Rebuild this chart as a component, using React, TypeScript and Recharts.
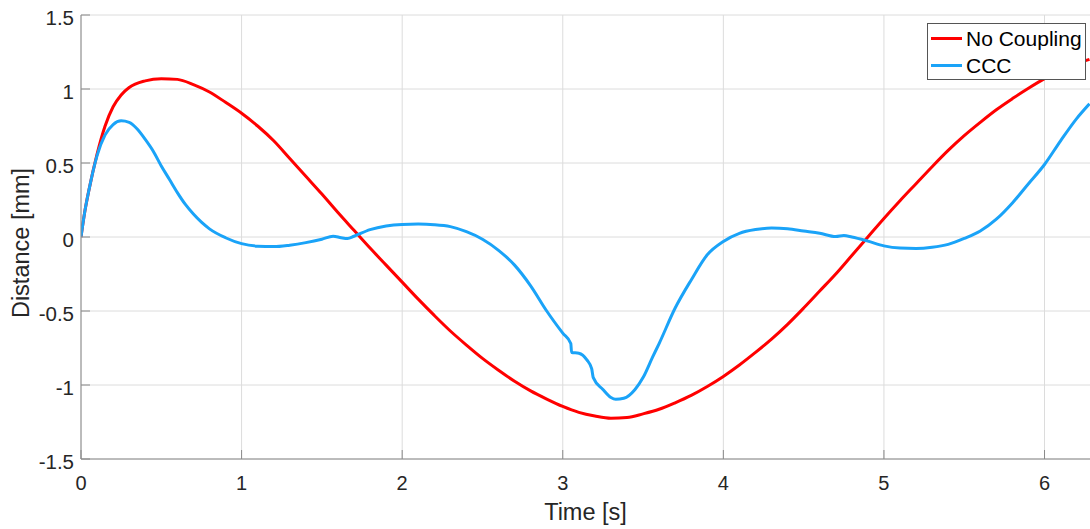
import React from 'react';
import { CartesianGrid, Legend, Line, LineChart, XAxis, YAxis } from 'recharts';

// time [s] / distance [mm]
const noCouplingTime = [
  0, 0.025, 0.05, 0.1, 0.15, 0.2, 0.25, 0.3, 0.4, 0.5, 0.6, 0.7, 0.8, 0.9, 1.0, 1.1, 1.2, 1.3, 1.4, 1.5,
  1.6, 1.7, 1.8, 1.9, 2.0, 2.1, 2.2, 2.3, 2.4, 2.5, 2.6, 2.7, 2.8, 2.9, 3.0, 3.1, 3.2, 3.3, 3.4, 3.5,
  3.6, 3.7, 3.8, 3.9, 4.0, 4.1, 4.2, 4.3, 4.4, 4.5, 4.6, 4.7, 4.8, 4.9, 5.0, 5.1, 5.2, 5.3, 5.4, 5.5,
  5.6, 5.7, 5.8, 5.9, 6.0, 6.1, 6.2, 6.28
];
const noCouplingDist = [
  0, 0.18, 0.32, 0.56, 0.75, 0.88, 0.96, 1.01, 1.055, 1.07, 1.065, 1.03, 0.98, 0.91, 0.836, 0.75, 0.65, 0.53, 0.41, 0.29,
  0.165, 0.045, -0.075, -0.19, -0.305, -0.42, -0.53, -0.635, -0.73, -0.82, -0.9, -0.975, -1.04, -1.095, -1.145, -1.185, -1.21, -1.225, -1.22, -1.195,
  -1.164, -1.12, -1.07, -1.01, -0.942, -0.865, -0.78, -0.69, -0.59, -0.48, -0.365, -0.25, -0.125, 0.0, 0.125, 0.245, 0.36, 0.475, 0.585, 0.685,
  0.775, 0.86, 0.935, 1.005, 1.07, 1.125, 1.17, 1.2
];

const cccTime = [
  0, 0.025, 0.05, 0.1, 0.15, 0.2, 0.25, 0.3, 0.35, 0.4, 0.45, 0.5, 0.55, 0.6, 0.65, 0.7, 0.75, 0.8, 0.9, 1.0,
  1.1, 1.2, 1.3, 1.4, 1.5, 1.57, 1.62, 1.66, 1.7, 1.8, 1.9, 2.0, 2.1, 2.2, 2.3, 2.4, 2.5, 2.6, 2.7, 2.8,
  2.9, 3.0, 3.05, 3.055, 3.1, 3.15, 3.18, 3.19, 3.25, 3.3, 3.33, 3.38, 3.45, 3.5, 3.56, 3.6, 3.7, 3.8, 3.9, 4.0,
  4.1, 4.2, 4.3, 4.4, 4.5, 4.6, 4.7, 4.75, 4.8, 4.9, 5.0, 5.1, 5.2, 5.3, 5.4, 5.5, 5.6, 5.7, 5.8, 5.9,
  6.0, 6.1, 6.2, 6.28
];
const cccDist = [
  0, 0.18, 0.32, 0.55, 0.69, 0.76, 0.785, 0.775, 0.73, 0.66, 0.58, 0.48, 0.39, 0.3, 0.22, 0.155, 0.1, 0.055, -0.005, -0.045,
  -0.062, -0.065, -0.055, -0.038, -0.015, 0.005, -0.005, -0.01, 0.005, 0.05, 0.075, 0.085, 0.087, 0.083, 0.07, 0.036, -0.015, -0.09, -0.19, -0.33,
  -0.5, -0.65, -0.72, -0.78, -0.785, -0.83, -0.89, -0.95, -1.03, -1.085, -1.097, -1.09, -1.03, -0.95, -0.81, -0.72, -0.48, -0.29, -0.12, -0.03,
  0.025, 0.05, 0.06, 0.055, 0.04, 0.025, 0.003, 0.01, 0.0, -0.028, -0.06, -0.075, -0.078, -0.07, -0.05, -0.01, 0.04, 0.12, 0.23, 0.36,
  0.49, 0.65, 0.8, 0.9
];

const timeTicks = [0, 1, 2, 3, 4, 5, 6];
const distTicks = [-1.5, -1, -0.5, 0, 0.5, 1, 1.5];
const timeMax = 6.2832;

const RED = '#ff0000';
const BLUE = '#1aa3f8';
const FONT = '"Liberation Sans", Arial, sans-serif';
const TEXT = '#262626';
const AXIS = '#8a8a8a';

const noCouplingData = noCouplingTime.map((t, i) => ({ t, d: noCouplingDist[i] }));
const cccData = cccTime.map((t, i) => ({ t, d: cccDist[i] }));

const series = [
  { name: 'No Coupling', color: RED },
  { name: 'CCC', color: BLUE }
];

const X_MARGIN = 17;
const Y_MARGIN = 7;
const TICK_IN = 9;

function XTick({ x, y, payload }: any) {
  const axisY = y - X_MARGIN;
  return (
    <g>
      <line x1={x} x2={x} y1={axisY} y2={axisY - TICK_IN} stroke={AXIS} />
      <text x={x} y={y} dy="0.72em" textAnchor="middle" fill={TEXT} fontSize={20} fontFamily={FONT}>
        {payload.value}
      </text>
    </g>
  );
}

function YTick({ x, y, payload }: any) {
  const axisX = x + Y_MARGIN;
  return (
    <g>
      <line x1={axisX} x2={axisX + TICK_IN} y1={y} y2={y} stroke={AXIS} />
      <text x={x} y={y} dy="0.48em" textAnchor="end" fill={TEXT} fontSize={20.5} fontFamily={FONT}>
        {payload.value}
      </text>
    </g>
  );
}

function LegendBox() {
  return (
    <div
      style={{
        background: '#fff',
        border: '1px solid #555',
        padding: '1px 3px',
        fontFamily: FONT,
        fontSize: 21,
        color: '#000',
        whiteSpace: 'nowrap',
        boxSizing: 'border-box',
        height: 57
      }}
    >
      {series.map((s) => (
        <div key={s.name} style={{ display: 'flex', alignItems: 'center', height: 27 }}>
          <span style={{ display: 'inline-block', width: 31, height: 3, background: s.color, marginRight: 4, flexShrink: 0 }} />
          <span>{s.name}</span>
        </div>
      ))}
    </div>
  );
}

export default function App() {
  return (
    <div style={{ position: 'absolute', left: 0, top: 0, background: '#fff' }}>
      <LineChart width={1090} height={529} margin={{ top: 15, right: 0, bottom: 0, left: 0 }}>
        <CartesianGrid stroke="#dcdcdc" horizontalValues={distTicks} verticalValues={timeTicks} />
        <XAxis
          xAxisId="top"
          orientation="top"
          type="number"
          domain={[0, timeMax]}
          height={0}
          tick={false}
          tickLine={false}
          stroke={AXIS}
        />
        <XAxis
          type="number"
          dataKey="t"
          domain={[0, timeMax]}
          allowDataOverflow
          ticks={timeTicks}
          height={70}
          tickSize={0}
          tickMargin={X_MARGIN}
          tickLine={false}
          stroke={AXIS}
          tick={<XTick />}
          label={({ viewBox }: any) => (
            <text
              x={viewBox.x + viewBox.width / 2}
              y={viewBox.y + 61}
              textAnchor="middle"
              fill={TEXT}
              fontSize={23.5}
              fontFamily={FONT}
            >
              Time [s]
            </text>
          )}
        />
        <YAxis
          type="number"
          domain={[-1.5, 1.5]}
          allowDataOverflow
          ticks={distTicks}
          width={81}
          tickSize={0}
          tickMargin={Y_MARGIN}
          tickLine={false}
          stroke={AXIS}
          tick={<YTick />}
          label={({ viewBox }: any) => {
            const cx = viewBox.x + 29;
            const cy = viewBox.y + viewBox.height / 2 + 6;
            return (
              <text
                x={cx}
                y={cy}
                transform={`rotate(-90, ${cx}, ${cy})`}
                textAnchor="middle"
                fill={TEXT}
                fontSize={23.5}
                fontFamily={FONT}
              >
                Distance [mm]
              </text>
            );
          }}
        />
        <Line
          data={noCouplingData}
          dataKey="d"
          name="No Coupling"
          type="monotone"
          stroke={RED}
          strokeWidth={3}
          dot={false}
          isAnimationActive={false}
        />
        <Line
          data={cccData}
          dataKey="d"
          name="CCC"
          type="monotone"
          stroke={BLUE}
          strokeWidth={3}
          dot={false}
          isAnimationActive={false}
        />
        <Legend
          layout="vertical"
          align="center"
          verticalAlign="middle"
          wrapperStyle={{ left: 927, top: 23, width: 159 }}
          content={() => <LegendBox />}
        />
      </LineChart>
    </div>
  );
}
